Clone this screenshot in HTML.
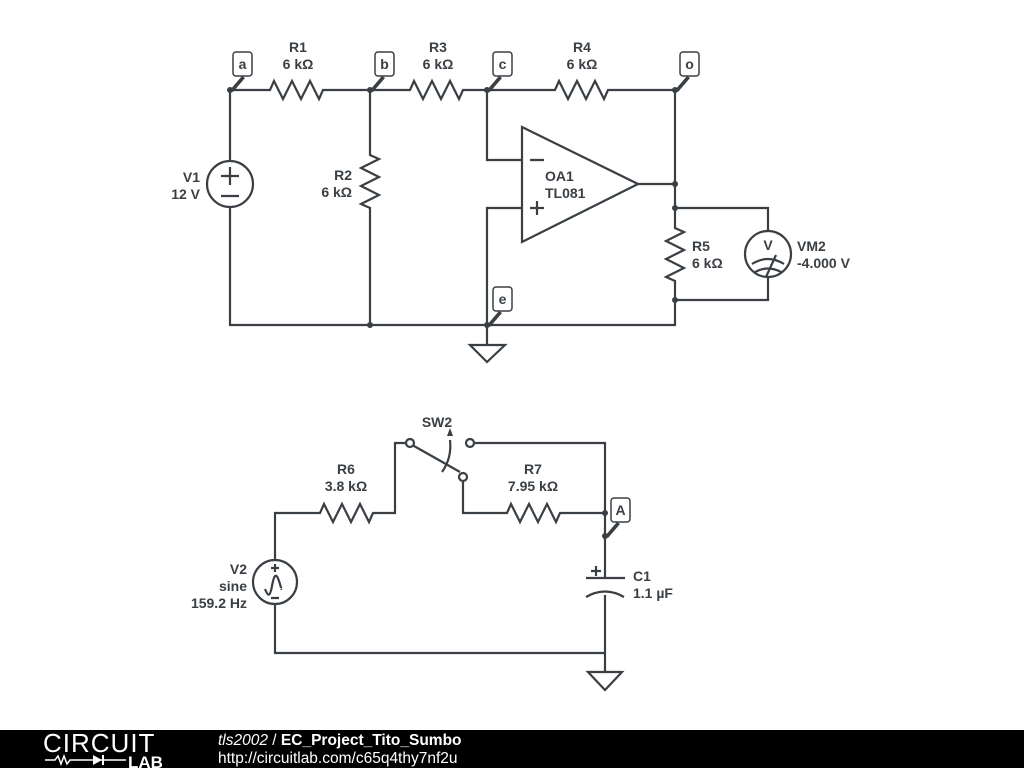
<!DOCTYPE html>
<html><head><meta charset="utf-8"><style>
body{margin:0;width:1024px;height:768px;background:#fff;overflow:hidden;font-family:"Liberation Sans",sans-serif}
svg text{font-family:"Liberation Sans",sans-serif;font-weight:bold;font-size:14px;fill:#3a3f44}
</style></head><body>
<svg width="1024" height="768" viewBox="0 0 1024 768" xmlns="http://www.w3.org/2000/svg">
<g stroke="#3a3f44" stroke-width="2.2" fill="none" stroke-linejoin="miter">
<path d="M230 90H270l4 -9 l9 18 l9 -18 l9 18 l9 -18 l9 18 l4 -9 H410 l4 -9 l9 18 l9 -18 l9 18 l9 -18 l9 18 l4 -9 H555 l4 -9 l9 18 l9 -18 l9 18 l9 -18 l9 18 l4 -9 H675 V228 l9 4 l-18 9 l18 9 l-18 9 l18 9 l-18 9 l9 4 V325 H230 V207 M230 161 V90"/>
<path d="M370 90 V155 l9 4 l-18 9 l18 9 l-18 9 l18 9 l-18 9 l9 4 V325"/>
<circle cx="230" cy="184" r="23"/>
<path d="M221 176h18M230 167v18M221 196h18"/>
<path d="M487 90V160H522M522 208H487V325M638 184H675"/>
<path d="M522 127L522 242L638 184Z"/>
<path d="M530 160h14M530 208h14M537 201v14"/>
<path d="M675 208H768V231M768 277V300H675"/>
<circle cx="768" cy="254" r="23"/>
<path d="M752 264q16 -10 32 0M755 272q13 -7 26 0M766 277l10 -22"/>
<path d="M487 325V345M470 345H505L487 362Z"/>
<circle cx="275" cy="582" r="22"/>
<path d="M275 560V513H320l4 -9 l9 18 l9 -18 l9 18 l9 -18 l9 18 l4 -9 H395V443H405"/>
<path d="M275 604V653H605V595M605 578V443H475"/>
<path d="M463 481V513H507l4 -9 l9 18 l9 -18 l9 18 l9 -18 l9 18 l4 -9 H605"/>
<circle cx="410" cy="443" r="4" fill="#fff"/>
<circle cx="470" cy="443" r="4" fill="#fff"/>
<circle cx="463" cy="477" r="4" fill="#fff"/>
<path d="M414 446L460 472"/>
<path d="M442 472Q452 458 450 440"/>
<path d="M586 578H625M586 597Q605 586 624 597"/>
<path d="M591 571h10M596 566v10"/>
<path d="M265 589c3 8 5 8 7 -3s4 -14 7 -5s2 8 2 8"/>
<path d="M271 568h8M275 564v8M271 598h8"/>
<path d="M605 653V672M588 672H622L605 690Z"/>
</g>
<g fill="#3a3f44">
<path d="M447 436l3 -8l3 8z"/>
<circle cx="230" cy="90" r="3"/><circle cx="370" cy="90" r="3"/><circle cx="487" cy="90" r="3"/><circle cx="675" cy="90" r="3"/>
<circle cx="370" cy="325" r="3"/><circle cx="487" cy="325" r="3"/>
<circle cx="675" cy="184" r="3"/><circle cx="675" cy="208" r="3"/><circle cx="675" cy="300" r="3"/>
<circle cx="605" cy="513" r="3"/><circle cx="605" cy="536" r="3"/>
<path d="M230 90l12 -14l3 2l-12 14z"/><path d="M370 90l12 -14l3 2l-12 14z"/><path d="M487 90l12 -14l3 2l-12 14z"/><path d="M675 90l12 -14l3 2l-12 14z"/><path d="M487 325l12 -14l3 2l-12 14z"/><path d="M605 536l12 -14l3 2l-12 14z"/>
</g>
<g stroke="#3a3f44" stroke-width="1.5" fill="#fff">
<rect x="233" y="52" width="19" height="24" rx="3"/>
<rect x="375" y="52" width="19" height="24" rx="3"/>
<rect x="493" y="52" width="19" height="24" rx="3"/>
<rect x="680" y="52" width="19" height="24" rx="3"/>
<rect x="493" y="287" width="19" height="24" rx="3"/>
<rect x="611" y="498" width="19" height="24" rx="3"/>
</g>
<text x="242.5" y="69" text-anchor="middle">a</text>
<text x="384.5" y="69" text-anchor="middle">b</text>
<text x="502.5" y="69" text-anchor="middle">c</text>
<text x="689.5" y="69" text-anchor="middle">o</text>
<text x="502.5" y="304" text-anchor="middle">e</text>
<text x="620.5" y="515" text-anchor="middle">A</text>
<text x="298" y="52" text-anchor="middle">R1</text><text x="298" y="69" text-anchor="middle">6 kΩ</text>
<text x="438" y="52" text-anchor="middle">R3</text><text x="438" y="69" text-anchor="middle">6 kΩ</text>
<text x="582" y="52" text-anchor="middle">R4</text><text x="582" y="69" text-anchor="middle">6 kΩ</text>
<text x="200" y="182" text-anchor="end">V1</text><text x="200" y="199" text-anchor="end">12 V</text>
<text x="352" y="180" text-anchor="end">R2</text><text x="352" y="197" text-anchor="end">6 kΩ</text>
<text x="545" y="181">OA1</text><text x="545" y="198">TL081</text>
<text x="692" y="251">R5</text><text x="692" y="268">6 kΩ</text>
<text x="797" y="251">VM2</text><text x="797" y="268">-4.000 V</text>
<text x="768" y="250" text-anchor="middle" font-size="15">V</text>
<text x="346" y="474" text-anchor="middle">R6</text><text x="346" y="491" text-anchor="middle">3.8 kΩ</text>
<text x="437" y="427" text-anchor="middle">SW2</text>
<text x="533" y="474" text-anchor="middle">R7</text><text x="533" y="491" text-anchor="middle">7.95 kΩ</text>
<text x="633" y="581">C1</text><text x="633" y="598">1.1 µF</text>
<text x="247" y="574" text-anchor="end">V2</text><text x="247" y="591" text-anchor="end">sine</text><text x="247" y="608" text-anchor="end">159.2 Hz</text>
<rect x="0" y="730" width="1024" height="38" fill="#000"/>
<text x="43" y="752" style="font-weight:normal;font-size:26px;fill:#fff;letter-spacing:1px">CIRCUIT</text>
<path d="M45 760h10l3 -4l3 8l3 -8l3 8l3 -4h15M84 760h42" stroke="#fff" stroke-width="1.5" fill="none"/>
<path d="M93 755v10l9 -5z" fill="#fff"/><path d="M103 755v10" stroke="#fff" stroke-width="2"/>
<text x="128" y="768" style="font-size:17px;fill:#fff;font-weight:900">LAB</text>
<text x="218" y="745" style="font-size:15.5px;fill:#fff;font-weight:normal;font-style:italic">tls2002 <tspan font-style="normal">/</tspan> <tspan font-weight="bold" font-style="normal">EC_Project_Tito_Sumbo</tspan></text>
<text x="218" y="763" style="font-size:15.5px;fill:#fff;font-weight:normal">http://circuitlab.com/c65q4thy7nf2u</text>
</svg>
</body></html>
